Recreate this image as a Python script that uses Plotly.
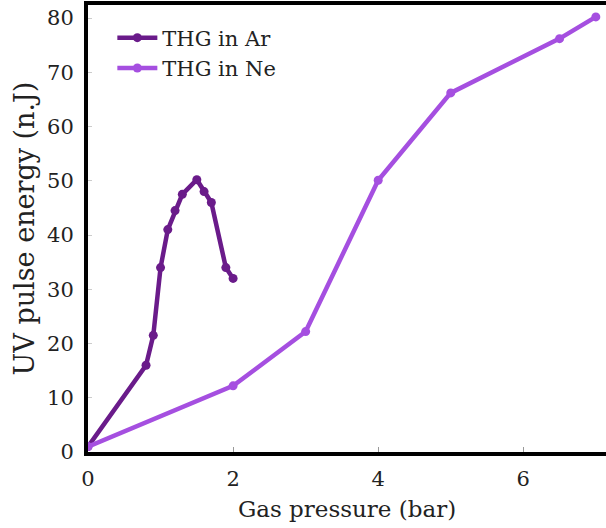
import plotly.graph_objects as go

# Third-harmonic UV pulse energy vs. gas pressure
ar_pressure = [0.0, 0.8, 0.9, 1.0, 1.1, 1.2, 1.3, 1.5, 1.6, 1.7, 1.9, 2.0]
ar_energy = [1.0, 16.0, 21.5, 34.0, 41.0, 44.5, 47.5, 50.2, 48.0, 46.0, 34.0, 32.0]

ne_pressure = [0.0, 2.0, 3.0, 4.0, 5.0, 6.5, 7.0]
ne_energy = [1.0, 12.2, 22.2, 50.1, 66.2, 76.2, 80.2]

x_ticks = [0, 2, 4, 6]
y_ticks = [0, 10, 20, 30, 40, 50, 60, 70, 80]

AR_COLOR = "#6a1b8a"
NE_COLOR = "#a54fe0"
FONT = "DejaVu Serif"
TEXT = "#222222"

fig = go.Figure()
fig.add_trace(go.Scatter(
    x=ar_pressure, y=ar_energy, name="THG in Ar", mode="lines+markers",
    line=dict(color=AR_COLOR, width=4.5), marker=dict(color=AR_COLOR, size=9),
))
fig.add_trace(go.Scatter(
    x=ne_pressure, y=ne_energy, name="THG in Ne", mode="lines+markers",
    line=dict(color=NE_COLOR, width=4.5), marker=dict(color=NE_COLOR, size=9),
))

fig.update_layout(
    width=606, height=528,
    margin=dict(l=88, r=0, t=5, b=76),
    plot_bgcolor="white", paper_bgcolor="white",
    font=dict(family=FONT, color=TEXT, size=18),
    legend=dict(
        x=0.047, y=0.972, xanchor="left", yanchor="top",
        bgcolor="rgba(255,255,255,0)", font=dict(family=FONT, size=21, color=TEXT),
        itemwidth=40, tracegroupgap=0,
    ),
    xaxis=dict(
        range=[0, 7.14], tickvals=x_ticks, ticktext=[str(v) for v in x_ticks],
        showgrid=False, zeroline=False,
        showline=True, linecolor="black", linewidth=4, mirror=True,
        ticks="inside", ticklen=5, tickwidth=1, tickcolor="#999999",
        tickfont=dict(family=FONT, size=21, color=TEXT), ticklabelstandoff=5,
        title=dict(text="Gas pressure (bar)", font=dict(family=FONT, size=23, color=TEXT), standoff=12),
    ),
    yaxis=dict(
        range=[0, 82.4], tickvals=y_ticks, ticktext=[str(v) for v in y_ticks],
        showgrid=False, zeroline=False,
        showline=True, linecolor="black", linewidth=4, mirror=False,
        ticks="inside", ticklen=4, tickwidth=1, tickcolor="#cccccc",
        tickfont=dict(family=FONT, size=21, color=TEXT), ticklabelstandoff=6,
        title=dict(text="UV pulse energy (n.J)", font=dict(family=FONT, size=27, color=TEXT), standoff=6),
    ),
)

fig.write_html("out.html")
